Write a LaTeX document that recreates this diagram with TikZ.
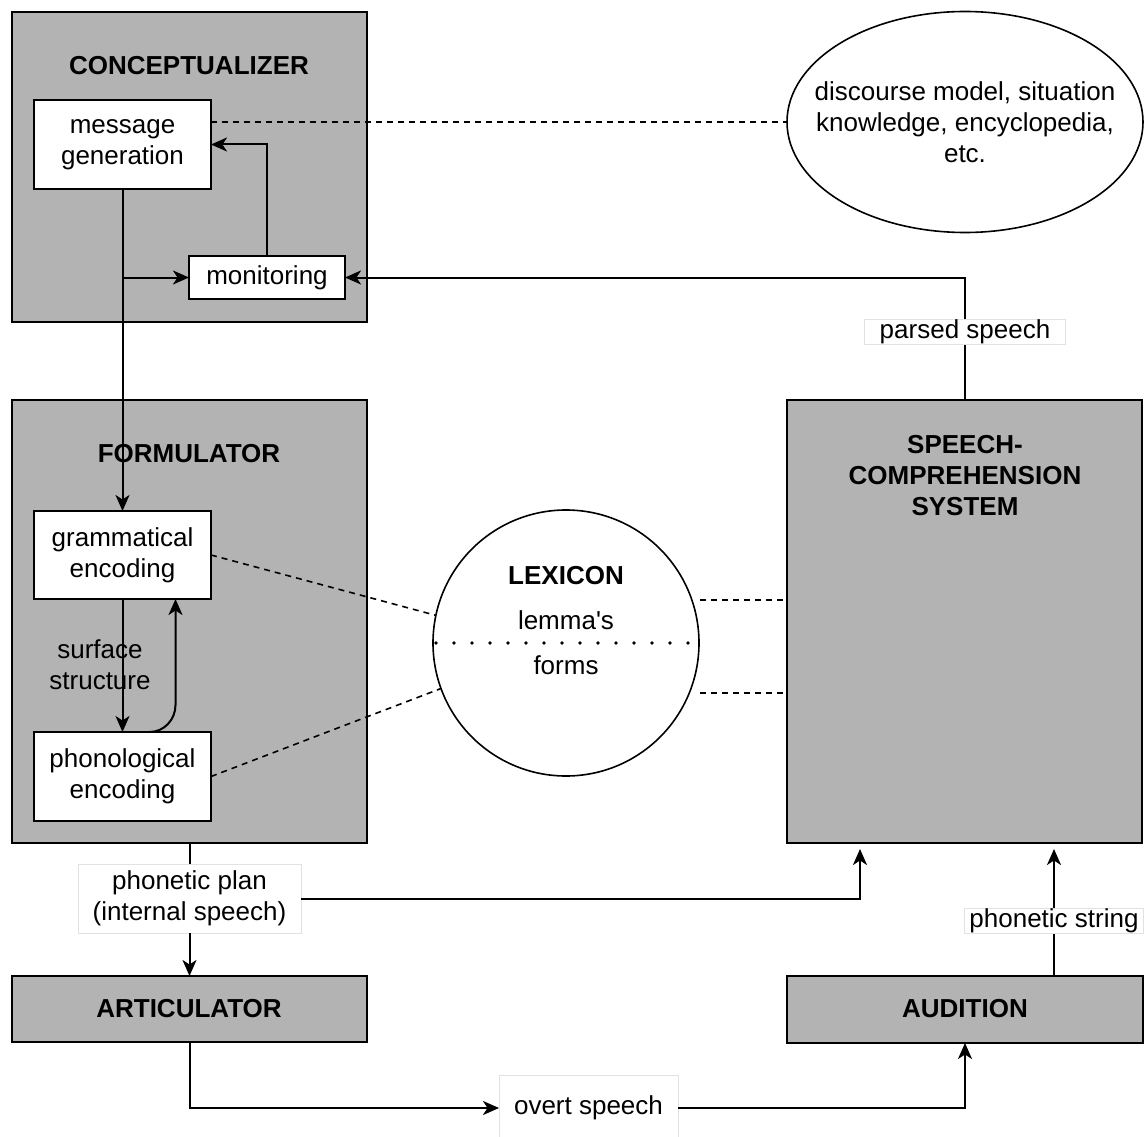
\documentclass[tikz,border=0pt]{standalone}
\usepackage{fontspec}
\setmainfont{Liberation Sans}[Ligatures=TeXOff]
\usetikzlibrary{arrows.meta,shapes.geometric,calc}
\definecolor{boxgray}{HTML}{B3B3B3}
\definecolor{lblgray}{HTML}{E2E2E2}
\newcommand\nfs{\fontsize{26}{31}\selectfont}
\newcommand\bfs{\bfseries\fontsize{26}{31}\selectfont}
\begin{document}
\begin{tikzpicture}[x=1pt,y=-1pt,
  graybox/.style={draw=black, line width=2pt, fill=boxgray, inner sep=0pt, outer sep=0pt, anchor=north west},
  whitebox/.style={draw=black, line width=2pt, fill=white, inner sep=0pt, outer sep=0pt, align=center, font=\nfs, anchor=north west},
  lbl/.style={draw=lblgray, line width=0.8pt, fill=white, inner sep=0pt, outer sep=0pt, align=center, font=\nfs},
  ttl/.style={font=\bfs, align=center, inner sep=0pt},
  plaintxt/.style={font=\nfs, align=center, inner sep=0pt},
  conn/.style={line width=2pt, -{Stealth[length=16pt,width=14pt,inset=4.5pt]}},
  plainline/.style={line width=2pt},
  dashline/.style={line width=1.6pt, dash pattern=on 6pt off 5pt},
  dotline/.style={line width=3.8pt, line cap=round, dash pattern=on 0pt off 18pt}
]
\path[use as bounding box, fill=white] (0,0) rectangle (1144,1137);

% main boxes
\node[graybox, minimum width=355, minimum height=310] (concept) at (12,12) {};
\node[graybox, minimum width=355, minimum height=443] (formul) at (12,400) {};
\node[graybox, minimum width=355, minimum height=443] (speech) at (787,400) {};
\node[graybox, minimum width=355, minimum height=66] (artic) at (12,976) {};
\node[graybox, minimum width=356, minimum height=67] (aud) at (787,976) {};

% inner boxes
\node[whitebox, minimum width=177, minimum height=89] (msg) at (34,100) {message\\generation};
\node[whitebox, minimum width=156, minimum height=43] (mon) at (189,256) {monitoring};
\node[whitebox, minimum width=177, minimum height=88] (gram) at (34,511) {grammatical\\encoding};
\node[whitebox, minimum width=177, minimum height=89] (phon) at (34,732) {phonological\\encoding};

% ellipse and lexicon
\node[ellipse, draw=black, line width=1.6pt, fill=white, minimum width=356, minimum height=221, inner sep=0pt, outer sep=0pt] (ell) at (965,122) {};
\node[circle, draw=black, line width=1.6pt, fill=white, minimum size=266, inner sep=0pt, outer sep=0pt] (lex) at (566,643) {};

% coordinates
\coordinate (rx) at (700,0);
\coordinate (spin1) at (860,849);
\coordinate (spin2) at (1054,849);

% connectors
\draw[conn] (msg.south) -- (msg.south |- gram.north);
\draw[conn] (msg.south |- mon.west) -- (mon.west);
\draw[conn] (mon.north) |- (msg.east);
\draw[dashline] (msg.east |- ell.west) -- (ell.west);
\draw[conn] (speech.north) |- (mon.east);
\draw[conn] (gram.south) -- (phon.north |- gram.south) -- (phon.north);
\draw[conn] ([xshift=27pt]phon.north) to[out=0,in=-90] ([xshift=53pt,yshift=27pt]phon.north) -- ([xshift=53pt]gram.south);
\draw[dashline] (gram.east) -- (lex.168);
\draw[dashline] (phon.east) -- (lex.200);
\draw[dashline] (rx |- lex.19) -- (speech.west |- lex.19);
\draw[dashline] (rx |- lex.-22.5) -- (speech.west |- lex.-22.5);
\draw[dotline] ([xshift=3pt]lex.west) -- (lex.east);

% labels on lines
\node[lbl, minimum width=223, minimum height=69] (pplan) at (189.5,898.5) {phonetic plan\\(internal speech)};
\node[lbl, minimum width=179, minimum height=66, anchor=north west] (overt) at (499,1075) {overt speech};
\draw[plainline] (formul.south) -- (formul.south |- pplan.north);
\draw[conn] (formul.south |- pplan.south) -- (formul.south |- artic.north);
\draw[conn] (pplan.east) -| (spin1);
\draw[conn] (artic.south) |- (overt.west);
\draw[conn] (overt.east) -| (aud.south);
\draw[conn] (spin2 |- aud.north) -- (spin2);
\node[lbl, minimum width=201, minimum height=25] (parsed) at (965,332) {parsed speech};
\node[lbl, minimum width=179, minimum height=25] (phs) at (1054,921) {phonetic string};

% titles and texts
\node[plaintxt] (elltext) at (965,122) {discourse model, situation\\knowledge, encyclopedia,\\etc.};
\node[ttl] (tconcept) at (189,66) {CONCEPTUALIZER};
\node[ttl] (tformul) at (189,454) {FORMULATOR};
\node[ttl] (tspeech) at (965,476) {SPEECH-\\COMPREHENSION\\SYSTEM};
\node[ttl] (tartic) at (189,1009) {ARTICULATOR};
\node[ttl] (taud) at (965,1009) {AUDITION};
\node[ttl] (tlex) at (566,576) {LEXICON};
\node[plaintxt] (lemma) at (566,620) {lemma's};
\node[plaintxt] (forms) at (566,665) {forms};
\node[plaintxt] (surf) at (100,665) {surface\\structure};
\end{tikzpicture}
\end{document}
